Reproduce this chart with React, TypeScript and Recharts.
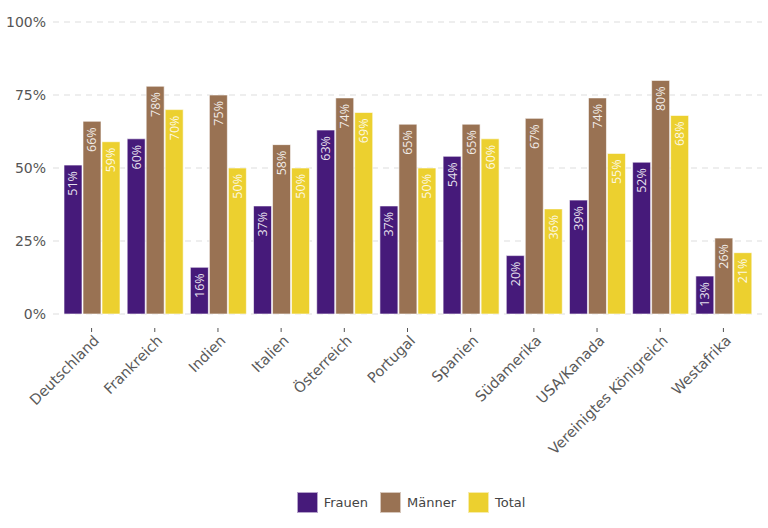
import React from "react"
import { Bar, BarChart, CartesianGrid, Legend, XAxis, YAxis } from "recharts"

const regions = [
  "Deutschland",
  "Frankreich",
  "Indien",
  "Italien",
  "Österreich",
  "Portugal",
  "Spanien",
  "Südamerika",
  "USA/Kanada",
  "Vereinigtes Königreich",
  "Westafrika",
]
const frauen = [51, 60, 16, 37, 63, 37, 54, 20, 39, 52, 13]
const maenner = [66, 78, 75, 58, 74, 65, 65, 67, 74, 80, 26]
const total = [59, 70, 50, 50, 69, 50, 60, 36, 55, 68, 21]
const yTicks = [0, 25, 50, 75, 100]

const series = [
  { key: "frauen", name: "Frauen", color: "#461a7a" },
  { key: "maenner", name: "Männer", color: "#997253" },
  { key: "total", name: "Total", color: "#ecd02f" },
]

const data = regions.map((region, i) => ({
  region,
  frauen: frauen[i],
  maenner: maenner[i],
  total: total[i],
}))

const FONT = "'DejaVu Sans', sans-serif"
const LABEL_FONT = "'Open Sans', sans-serif"

const renderBarLabel = (props: any) => {
  const { x, y, width, value } = props
  const cx = x + width / 2
  const ty = y + 6
  return (
    <text
      x={cx}
      y={ty}
      transform={`rotate(-90, ${cx}, ${ty})`}
      textAnchor="end"
      dominantBaseline="central"
      fill="#ffffff"
      fillOpacity={0.88}
      fontSize={12.5}
      fontFamily={LABEL_FONT}
    >
      {`${value}%`}
    </text>
  )
}

const XTick = (props: any) => {
  const { x, y, payload } = props
  return (
    <g transform={`translate(${x},${y})`}>
      <line x1={0} x2={0} y1={6} y2={10} stroke="#555" strokeWidth={1} />
      <text
        x={5}
        y={16}
        transform="rotate(-45, 5, 16)"
        textAnchor="end"
        dominantBaseline="central"
        fill="#5a5a5a"
        fontSize={14.5}
        fontFamily={FONT}
      >
        {payload.value}
      </text>
    </g>
  )
}

const renderLegend = () => (
  <div
    style={{
      display: "flex",
      justifyContent: "center",
      alignItems: "center",
      gap: 12,
      height: 24,
      paddingLeft: 60,
    }}
  >
    {series.map((s) => (
      <div key={s.key} style={{ display: "flex", alignItems: "center", gap: 6 }}>
        <div style={{ width: 19, height: 19, background: s.color, border: "1px solid rgba(255,255,255,0.6)" }} />
        <span style={{ fontFamily: FONT, fontSize: 13, color: "#444" }}>{s.name}</span>
      </div>
    ))}
  </div>
)

export default function App() {
  return (
    <div style={{ position: "absolute", left: 0, top: 0, width: 768, height: 528, background: "#fff" }}>
      <BarChart
        width={768}
        height={528}
        data={data}
        margin={{ top: 22, right: 6, bottom: 14, left: 0 }}
        barCategoryGap={4}
        barGap={1}
      >
        <CartesianGrid vertical={false} stroke="#dddddd" strokeDasharray="6 5" />
        <XAxis
          dataKey="region"
          interval={0}
          height={176}
          axisLine={false}
          tickLine={false}
          tick={<XTick />}
          padding={{ left: 7, right: 7 }}
        />
        <YAxis
          domain={[0, 100]}
          ticks={yTicks}
          width={53}
          axisLine={false}
          tickLine={false}
          tickSize={0}
          tickMargin={7}
          tickFormatter={(v: number) => `${v}%`}
          tick={{ fill: "#555", fontSize: 14, fontFamily: FONT }}
        />
        <Legend verticalAlign="bottom" height={24} content={renderLegend} />
        {series.map((s) => (
          <Bar
            key={s.key}
            dataKey={s.key}
            name={s.name}
            fill={s.color}
            stroke="#ffffff"
            strokeOpacity={0.6}
            strokeWidth={1}
            isAnimationActive={false}
            label={renderBarLabel}
          />
        ))}
      </BarChart>
    </div>
  )
}
